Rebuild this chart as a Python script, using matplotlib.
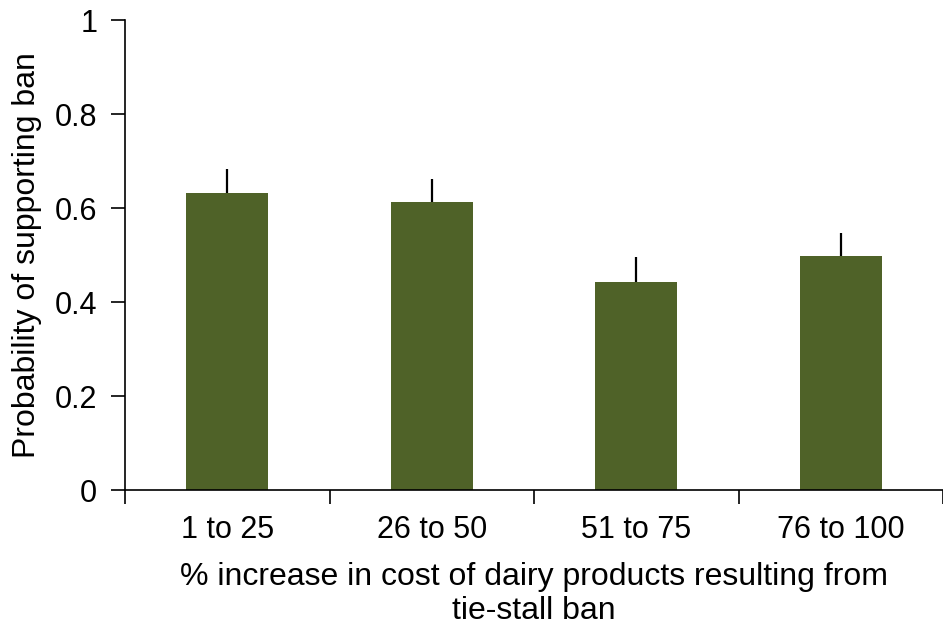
import matplotlib
matplotlib.use("Agg")
from matplotlib import pyplot as plt

categories = ["1 to 25", "26 to 50", "51 to 75", "76 to 100"]
prob = [0.631, 0.613, 0.443, 0.498]
err_upper = [0.053, 0.049, 0.053, 0.049]
y_ticks = [0, 0.2, 0.4, 0.6, 0.8, 1.0]
y_ticklabels = ["0", "0.2", "0.4", "0.6", "0.8", "1"]

plt.rcParams['font.family'] = ['Liberation Sans', 'DejaVu Sans']

fig = plt.figure(figsize=(9.43, 6.28), dpi=100)
ax = fig.add_axes([125 / 943, 1 - 490 / 628, 818 / 943, 470 / 628])

x = range(len(categories))
ax.bar(x, prob, width=0.4, color="#4F6228", zorder=2)
# one-sided error bars, no caps
ax.errorbar(x, prob, yerr=[[0] * len(prob), err_upper], fmt="none",
            ecolor="black", elinewidth=1.6, capsize=0, zorder=3)

ax.set_xlim(-0.5, 3.5)
ax.set_ylim(0, 1)
ax.set_yticks(y_ticks)
ax.set_yticklabels(y_ticklabels)
ax.set_xticks([-0.5, 0.5, 1.5, 2.5, 3.5])
ax.set_xticklabels([])
ax.set_xticks(list(x), categories, minor=True)
ax.tick_params(axis="x", which="minor", length=0, pad=18, labelsize=22)
ax.tick_params(axis="x", which="major", length=10, width=1.2)
ax.tick_params(axis="y", length=10, width=1.2, pad=10, labelsize=22)

for s in ["top", "right"]:
    ax.spines[s].set_visible(False)
for s in ["left", "bottom"]:
    ax.spines[s].set_linewidth(1.2)

ax.set_ylabel("Probability of supporting ban", fontsize=23, labelpad=9)
ax.set_xlabel("% increase in cost of dairy products resulting from\ntie-stall ban",
              fontsize=23, linespacing=1.2, labelpad=12)

fig.savefig("out.png", dpi=100)
